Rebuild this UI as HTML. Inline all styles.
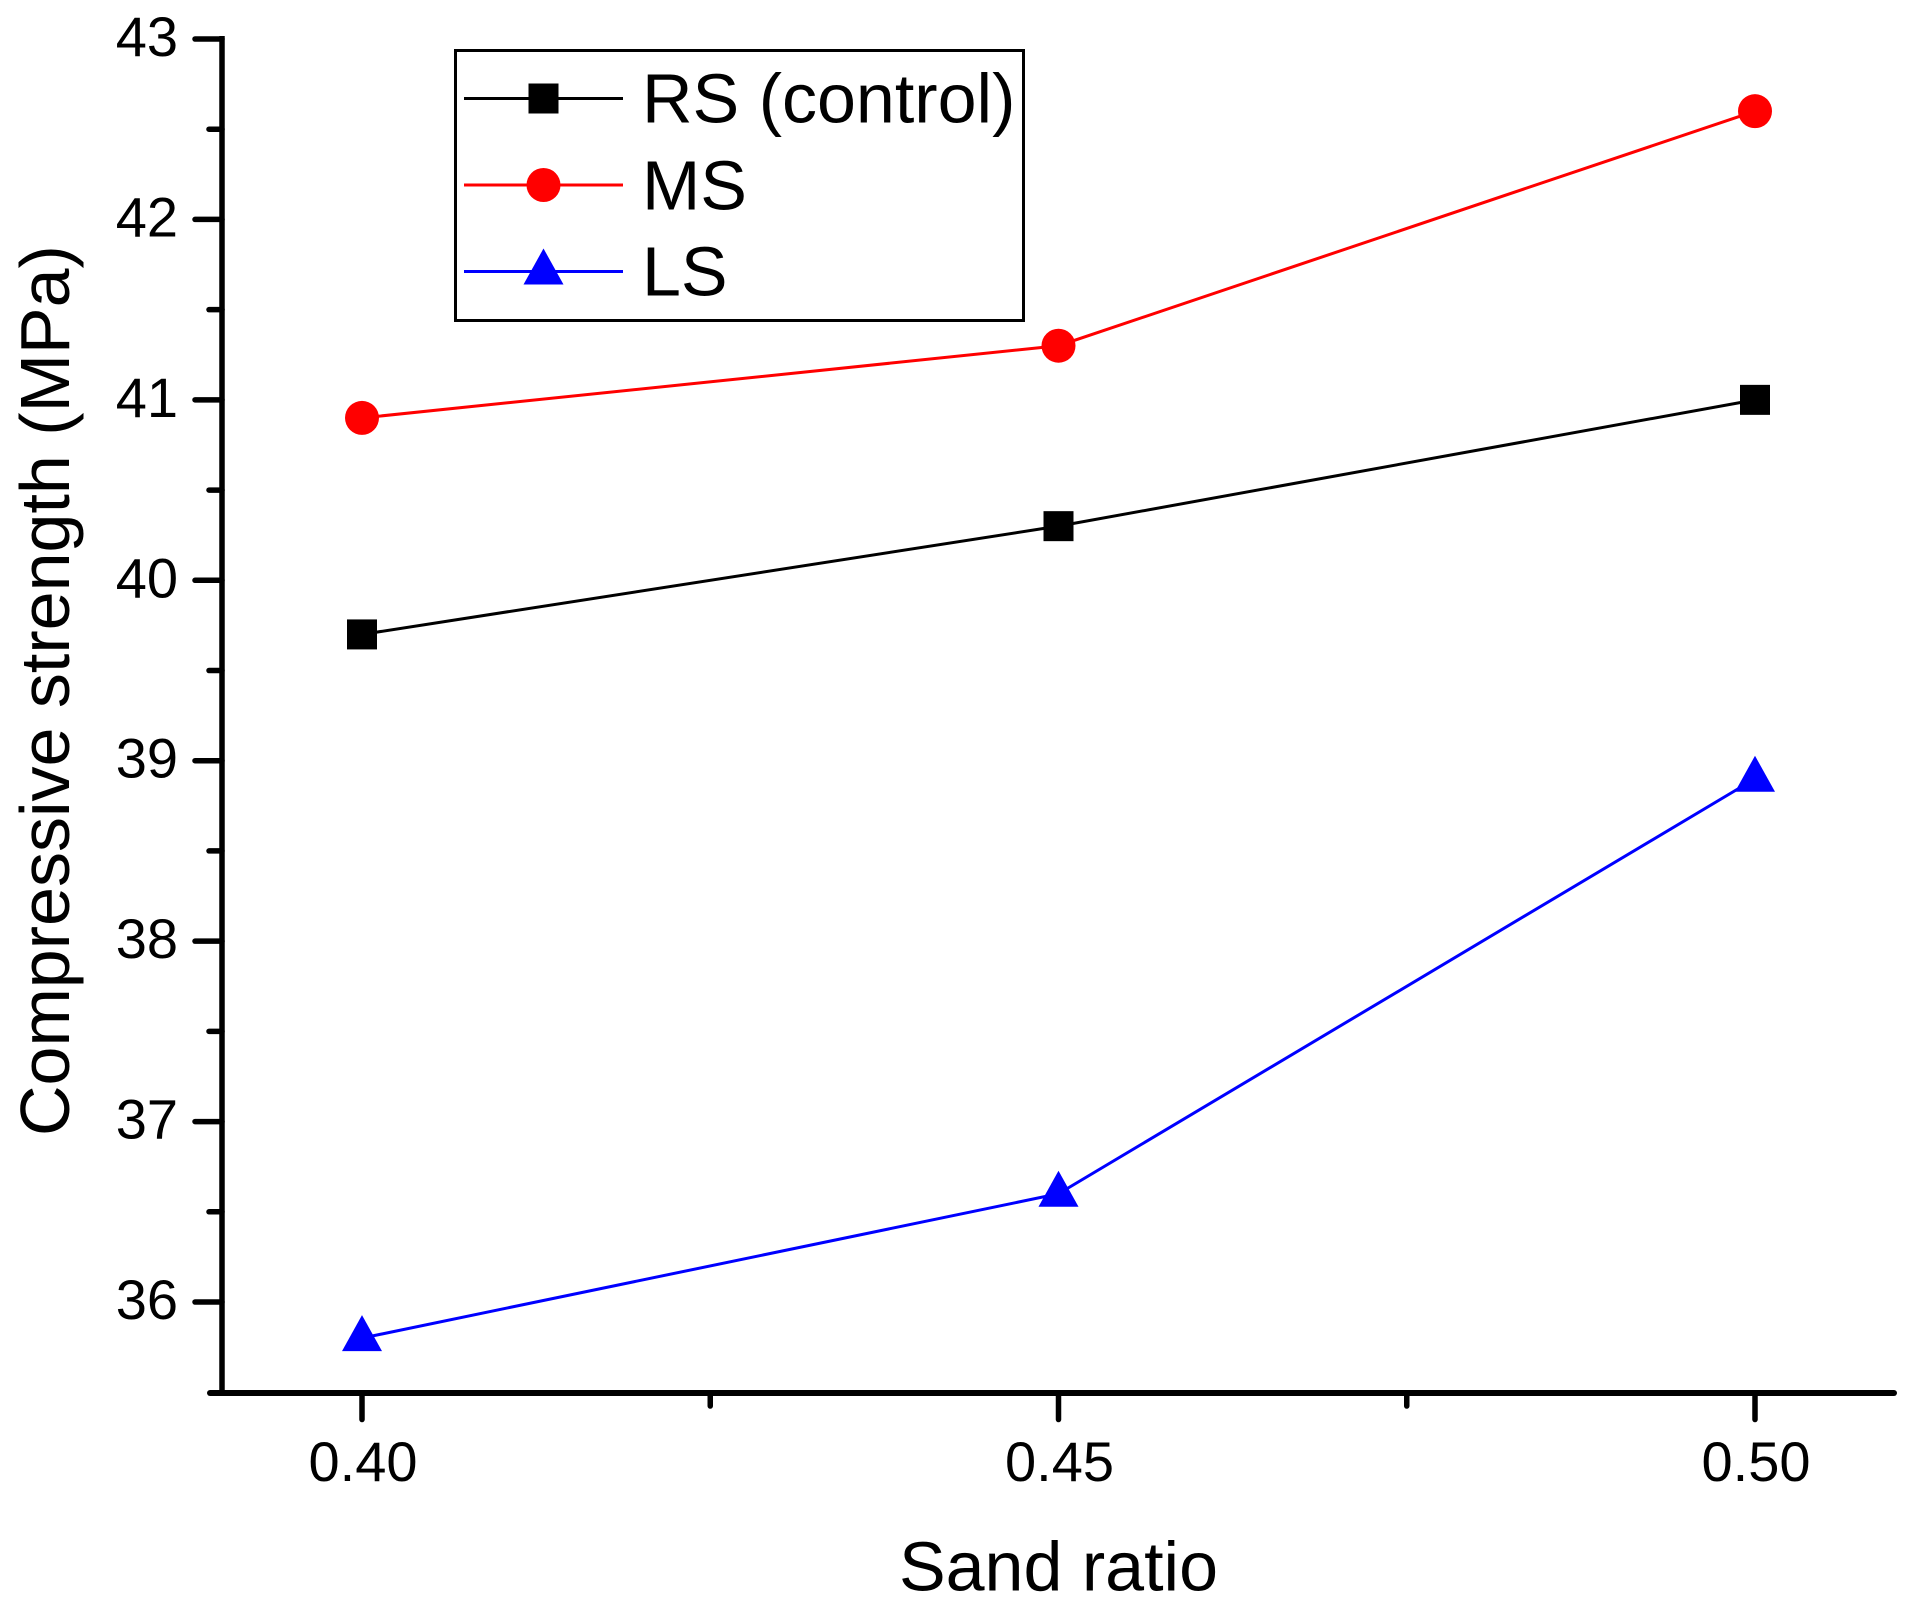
<!DOCTYPE html>
<html lang="en">
<head>
<meta charset="utf-8">
<title>Compressive strength vs sand ratio</title>
<style>
html,body{margin:0;padding:0;background:#fff;}
svg{display:block;}
text{font-family:"Liberation Sans",Arial,sans-serif;fill:#000;}
</style>
</head>
<body>
<svg id="chart" xmlns="http://www.w3.org/2000/svg" width="1907" height="1604" viewBox="0 0 1907 1604">
  <rect x="0" y="0" width="1907" height="1604" fill="#fff"/>
  <g id="axes"></g>
  <g id="series"></g>
  <text transform="translate(69,1136) rotate(-90)" font-size="70">Compressive strength (MPa)</text>
  <text x="1058.5" y="1590.5" font-size="70" text-anchor="middle">Sand ratio</text>
  <g id="legend">
    <rect x="455.5" y="50.5" width="568" height="270" fill="#fff" stroke="#000" stroke-width="3"/>
  </g>
</svg>
<script>
const categories = [0.40, 0.45, 0.50];
const seriesNames = ["RS (control)", "MS", "LS"];
const rsValues = [39.7, 40.3, 41.0];
const msValues = [40.9, 41.3, 42.6];
const lsValues = [35.8, 36.6, 38.9];
const yMajorTicks = [36, 37, 38, 39, 40, 41, 42, 43];
const yMinorTicks = [36.5, 37.5, 38.5, 39.5, 40.5, 41.5, 42.5];
const xMajorTicks = [0.40, 0.45, 0.50];
const xMinorTicks = [0.425, 0.475];
const xTickLabels = ["0.40", "0.45", "0.50"];

const NS = "http://www.w3.org/2000/svg";
function xScale(v) { return 362 + (v - 0.40) * 13930; }
function yScale(v) { return 39 + (43 - v) * 180.43; }
function make(tag, parent) {
  const el = document.createElementNS(NS, tag);
  parent.appendChild(el);
  return el;
}
function setLine(el, x1, y1, x2, y2, color, width, cap) {
  el.setAttribute("x1", x1);
  el.setAttribute("y1", y1);
  el.setAttribute("x2", x2);
  el.setAttribute("y2", y2);
  el.setAttribute("stroke", color);
  el.setAttribute("stroke-width", width);
  el.setAttribute("stroke-linecap", cap);
}
function drawMarker(kind, parent, cx, cy, color) {
  let m;
  if (kind === "square") {
    m = make("rect", parent);
    m.setAttribute("x", cx - 15);
    m.setAttribute("y", cy - 15);
    m.setAttribute("width", 30);
    m.setAttribute("height", 30);
  } else if (kind === "circle") {
    m = make("circle", parent);
    m.setAttribute("cx", cx);
    m.setAttribute("cy", cy);
    m.setAttribute("r", 17);
  } else {
    m = make("polygon", parent);
    m.setAttribute("points", cx + "," + (cy - 23) + " " + (cx + 20) + "," + (cy + 13) + " " + (cx - 20) + "," + (cy + 13));
  }
  m.setAttribute("fill", color);
  return m;
}

const axes = document.getElementById("axes");
const seriesGroup = document.getElementById("series");
const legend = document.getElementById("legend");

const yAxisLine = make("line", axes);
setLine(yAxisLine, 222, 39 - 3, 222, 1393, "#000", 5.5, "butt");



const xAxisLine = make("line", axes);
setLine(xAxisLine, 210, 1393, 1894, 1393, "#000", 6, "round");



yMajorTicks.forEach(function (v) {
  const t = make("line", axes);
  setLine(t, 195, yScale(v), 222, yScale(v), "#000", 5.5, "round");
  
  
  const lab = make("text", axes);
  lab.setAttribute("x", 178);
  lab.setAttribute("y", yScale(v) + 17);
  lab.setAttribute("font-size", 56);
  lab.setAttribute("text-anchor", "end");
  lab.textContent = String(v);
  
  
});
yMinorTicks.forEach(function (v) {
  const t = make("line", axes);
  setLine(t, 209, yScale(v), 222, yScale(v), "#000", 5.5, "round");
  
  
});
xMajorTicks.forEach(function (v, i) {
  const t = make("line", axes);
  setLine(t, xScale(v), 1393, xScale(v), 1419.5, "#000", 5.5, "round");
  
  
  const lab = make("text", axes);
  lab.setAttribute("x", xScale(v) + 1);
  lab.setAttribute("y", 1481);
  lab.setAttribute("font-size", 56);
  lab.setAttribute("text-anchor", "middle");
  lab.textContent = xTickLabels[i];
  
  
});
xMinorTicks.forEach(function (v) {
  const t = make("line", axes);
  setLine(t, xScale(v), 1393, xScale(v), 1406, "#000", 5.5, "round");
  
  
});

function drawSeries(name, values, color, kind) {
  const g = make("g", seriesGroup);
  
  
  const line = make("polyline", g);
  line.setAttribute("points", values.map(function (v, i) { return xScale(categories[i]) + "," + yScale(v); }).join(" "));
  line.setAttribute("fill", "none");
  line.setAttribute("stroke", color);
  line.setAttribute("stroke-width", 3);
  
  
  values.forEach(function (v, i) {
    const m = drawMarker(kind, g, xScale(categories[i]), yScale(v), color);
    
    
  });
}
drawSeries("rs", rsValues, "#000", "square");
drawSeries("ms", msValues, "#f00", "circle");
drawSeries("ls", lsValues, "#00f", "triangle");

function drawLegendEntry(index, lineY, baseY, color, kind) {
  const g = make("g", legend);
  
  
  const l = make("line", g);
  setLine(l, 464, lineY, 623, lineY, color, 3, "butt");
  
  
  const m = drawMarker(kind, g, 543.5, lineY, color);
  
  
  const t = make("text", g);
  t.setAttribute("x", 642);
  t.setAttribute("y", baseY);
  t.setAttribute("font-size", 70);
  t.textContent = seriesNames[index];
  
  
}
drawLegendEntry(0, 98.5, 122.5, "#000", "square");
drawLegendEntry(1, 185, 209.5, "#f00", "circle");
drawLegendEntry(2, 271.5, 295.5, "#00f", "triangle");
</script>
</body>
</html>
